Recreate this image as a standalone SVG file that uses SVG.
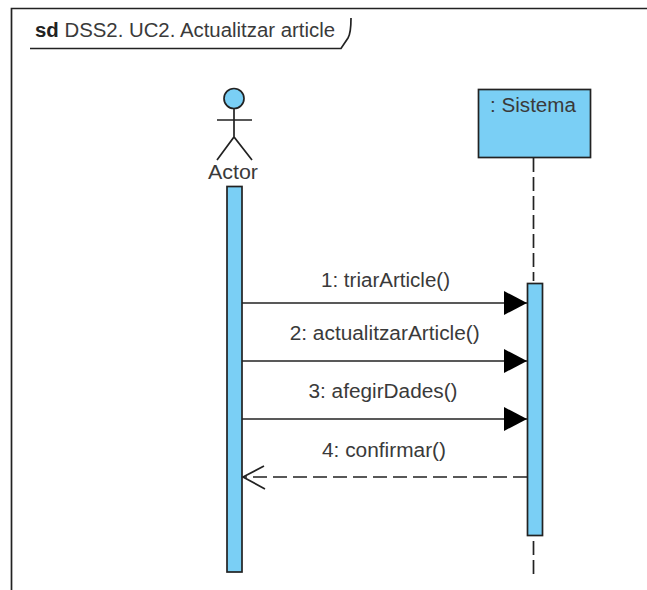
<svg xmlns="http://www.w3.org/2000/svg" width="647" height="590" viewBox="0 0 647 590">
<defs>
<marker id="solid" markerUnits="userSpaceOnUse" markerWidth="24" markerHeight="26" refX="23" refY="13" orient="auto"><path d="M0 1L23 13L0 25Z" fill="#000"/></marker>
</defs>
<style>
text{font-family:"Liberation Sans",Arial,sans-serif;font-size:20px;fill:#3a3a3a}
.b{fill:#7acff5;stroke:#222;stroke-width:1.7}
.l{fill:none;stroke:#222;stroke-width:1.7}
.m{text-anchor:middle}
</style>
<rect width="647" height="590" fill="#fff"/>
<g id="frame">
<path class="l" d="M11.500 590V8.500H647"/>
<path class="l" d="M30 48.500H341L348 38Q351 33 351 18"/>
<text x="35" y="37" textLength="300" lengthAdjust="spacingAndGlyphs"><tspan font-weight="bold" fill="#222">sd</tspan> DSS2. UC2. Actualitzar article</text>
</g>
<g id="actor">
<circle class="b" cx="234" cy="98.500" r="10"/>
<path class="l" d="M234 108.500V137M217 120H252M217 160L234 137L252 160"/>
<text class="m" x="233" y="179" textLength="50" lengthAdjust="spacingAndGlyphs">Actor</text>
<rect class="b" x="227" y="186.500" width="15" height="385.500"/>
</g>
<g id="sistema">
<path class="l" stroke-dasharray="14 5" d="M533.500 158V281M533.500 541V577"/>
<rect class="b" x="478.500" y="89.500" width="112" height="68"/>
<text class="m" x="533" y="112" textLength="86" lengthAdjust="spacingAndGlyphs">: Sistema</text>
<rect class="b" x="527.500" y="283.500" width="15" height="252"/>
</g>
<g id="connectors">
<path class="l" marker-end="url(#solid)" d="M242 303H527"/>
<path class="l" marker-end="url(#solid)" d="M242 361H527"/>
<path class="l" marker-end="url(#solid)" d="M242 419H527"/>
<path class="l" stroke-dasharray="14 6" d="M527 477H243"/>
<path class="l" d="M264 466L243 477L265 489"/>
</g>
<g id="labels">
<text class="m" x="385.500" y="287" textLength="129" lengthAdjust="spacingAndGlyphs">1: triarArticle()</text>
<text class="m" x="384.700" y="340" textLength="190" lengthAdjust="spacingAndGlyphs">2: actualitzarArticle()</text>
<text class="m" x="383" y="398" textLength="149" lengthAdjust="spacingAndGlyphs">3: afegirDades()</text>
<text class="m" x="384" y="457" textLength="124" lengthAdjust="spacingAndGlyphs">4: confirmar()</text>
</g>
</svg>
